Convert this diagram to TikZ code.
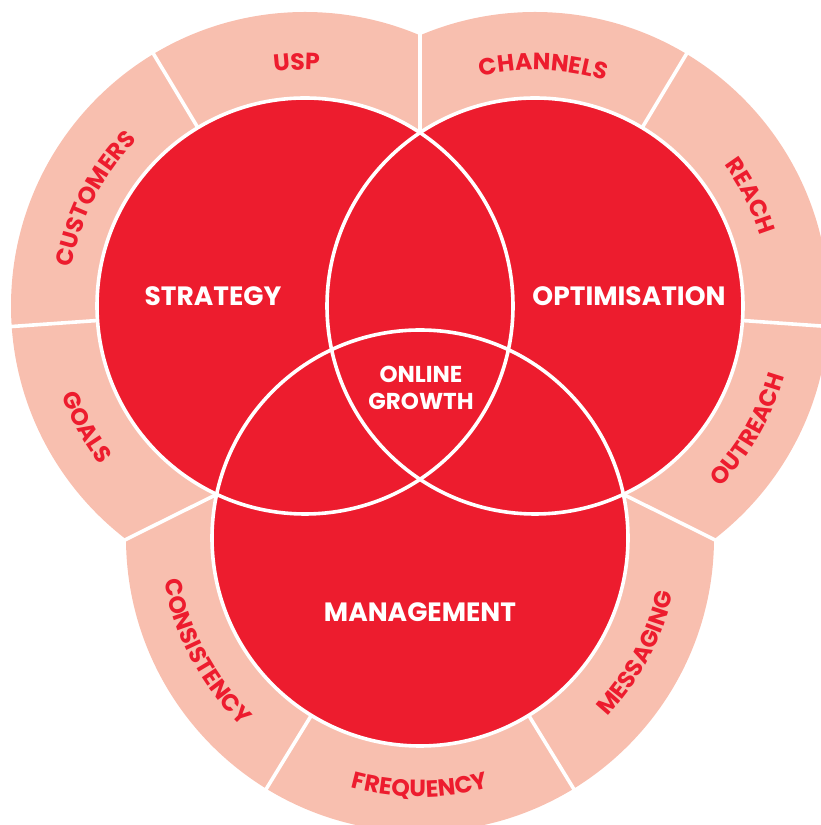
\documentclass[tikz,border=0pt]{standalone}
\usepackage{fontspec}
\setmainfont{Poppins}
\usetikzlibrary{decorations.text,calc}

\definecolor{vennred}{RGB}{237,28,46}
\definecolor{ringpink}{RGB}{248,191,175}
\newcommand{\ringfont}{\bfseries\fontsize{23.5}{23.5}\selectfont\color{vennred}}

\begin{document}
\begin{tikzpicture}[x=1pt, y=1pt,
  ringtext/.style={decorate, decoration={text along path, text align=center, text={|\ringfont|#1}}},
  circlabel/.style={text=white, font=\bfseries\fontsize{26.5}{26.5}\selectfont},
  gap/.style={white, line width=3.6pt}]
	\clip (0,0) rectangle (821,825);
	\coordinate (S) at (305,519);
	\coordinate (O) at (535,519);
	\coordinate (M) at (420,287);
	% outer rings
	\foreach \c in {S,O,M}{
		\fill[ringpink] (\c) circle[radius=294];
	}
	\draw[gap] ($(S)!0.5!(O)$) -- ++(90:320);
	\draw[gap] ($(S)!0.5!(M)$) -- ++(206.4:420);
	\draw[gap] ($(O)!0.5!(M)$) -- ++(333.6:420);
	\foreach \c/\a in {S/121, S/184, O/59, O/-4, M/238.5, M/301.5}{
		\draw[gap] (\c) -- ++(\a:300);
	}
	% circles
	\foreach \c in {S,O,M}{
		\fill[vennred] (\c) circle[radius=208];
	}
	\foreach \c in {S,O,M}{
		\draw[gap] (\c) circle[radius=208];
	}
	\node[circlabel] (strategy) at (213,529) {STRATEGY};
	\node[circlabel] (optimisation) at (629,529) {OPTIMISATION};
	\node[circlabel] (management) at (420,213) {MANAGEMENT};
	\node[circlabel, font=\bfseries\fontsize{23}{27}\selectfont, align=center] (growth) at (421,437) {ONLINE\\GROWTH};
	% ring labels, top half
	\path[ringtext=USP] (S) ++(132:236) arc[start angle=132, end angle=52, radius=236];
	\path[ringtext=CUSTOMERS] (S) ++(198:236) arc[start angle=198, end angle=108, radius=236];
	\path[ringtext=CHANNELS] (O) ++(128:236) arc[start angle=128, end angle=48, radius=236];
	\path[ringtext=REACH] (O) ++(67:236) arc[start angle=67, end angle=-13, radius=236];
	% ring labels, bottom half
	\path[ringtext=GOALS] (S) ++(164:259) arc[start angle=164, end angle=254, radius=259];
	\path[ringtext=OUTREACH] (O) ++(285:259) arc[start angle=285, end angle=375, radius=259];
	\path[ringtext=CONSISTENCY] (M) ++(163:259) arc[start angle=163, end angle=253, radius=259];
	\path[ringtext=FREQUENCY] (M) ++(225:259) arc[start angle=225, end angle=315, radius=259];
	\path[ringtext=MESSAGING] (M) ++(287:259) arc[start angle=287, end angle=377, radius=259];
\end{tikzpicture}
\end{document}
